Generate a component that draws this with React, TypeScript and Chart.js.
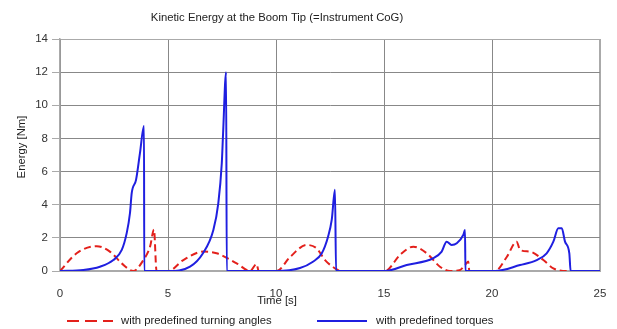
import React, { useEffect, useRef } from "react";
import { Chart, registerables } from "chart.js";

Chart.register(...registerables);

const chartTitle = "Kinetic Energy at the Boom Tip (=Instrument CoG)";
const xTitle = "Time [s]";
const yTitle = "Energy [Nm]";
const seriesNames = ["with predefined turning angles", "with predefined torques"];

const angleTime = [
  0, 0.77, 1.7, 2.31, 2.86, 3.39, 3.86, 4.17, 4.35, 4.47,
  5.02, 5.71, 6.64, 7.25, 8.18, 8.8, 9.1, 9.2,
  10.03, 10.66, 11.42, 11.88, 12.27, 12.81, 13.0,
  15.05, 15.74, 16.36, 16.98, 17.59, 18.05, 18.5, 18.75, 18.9, 18.95,
  20.14, 20.69, 21.14, 21.3, 21.76, 22.38, 22.84, 23.46, 25,
];
const angleEnergy = [
  0, 1.07, 1.5, 1.17, 0.46, 0, 0.66, 1.47, 2.5, 0,
  0, 0.66, 1.17, 1.07, 0.46, 0, 0.42, 0,
  0, 0.86, 1.57, 1.37, 0.66, 0.1, 0,
  0, 0.97, 1.47, 1.07, 0.26, 0, 0.05, 0.36, 0.58, 0,
  0, 0.86, 1.77, 1.27, 1.17, 0.66, 0.16, 0, 0,
];

const torqueTime = [
  0, 1.08, 1.85, 2.47, 2.86, 3.09, 3.24, 3.32, 3.52, 3.7, 3.89, 3.9,
  5.02, 6.02, 6.62, 7.1, 7.33, 7.49, 7.55, 7.69, 7.72,
  10.03, 11.11, 11.71, 12.12, 12.41, 12.58, 12.73, 12.78,
  15.05, 16.05, 17.28, 17.67, 17.9, 18.13, 18.37, 18.67, 18.75, 18.77,
  20.14, 21.3, 22.07, 22.53, 22.84, 23.07, 23.23, 23.38, 23.58, 23.64, 25,
];
const torqueEnergy = [
  0, 0.06, 0.26, 0.66, 1.27, 2.3, 3.5, 4.7, 5.5, 7.1, 8.75, 0,
  0, 0.26, 1.07, 2.47, 4.1, 6.5, 8.3, 12.0, 0,
  0, 0.18, 0.56, 1.07, 2.07, 3.08, 4.9, 0,
  0, 0.36, 0.77, 1.17, 1.77, 1.57, 1.67, 2.17, 2.47, 0,
  0, 0.36, 0.66, 1.07, 1.77, 2.58, 2.58, 1.77, 1.07, 0, 0,
];

const xTicksMax = 25;
const yTicksMax = 14;

const RED = "#e3201b";
const BLUE = "#1f1fe0";
const FONT = "'Liberation Sans', Arial, sans-serif";

const zip = (xs: number[], ys: number[]) => xs.map((x, i) => ({ x, y: ys[i] }));

const textPlugin = {
  id: "texts",
  afterDraw(chart: any) {
    const ctx = chart.ctx as CanvasRenderingContext2D;
    ctx.save();
    ctx.fillStyle = "#222";
    ctx.textBaseline = "middle";
    ctx.font = `11.3px ${FONT}`;
    ctx.textAlign = "center";
    ctx.fillText(chartTitle, 277, 18);
    ctx.fillText(xTitle, 277, 301);
    ctx.save();
    ctx.translate(22, 147);
    ctx.rotate(-Math.PI / 2);
    ctx.fillText(yTitle, 0, 0);
    ctx.restore();
    // legend
    ctx.textAlign = "left";
    ctx.lineWidth = 2;
    ctx.strokeStyle = RED;
    ctx.setLineDash([12, 6]);
    ctx.beginPath();
    ctx.moveTo(67, 321);
    ctx.lineTo(113, 321);
    ctx.stroke();
    ctx.setLineDash([]);
    ctx.strokeStyle = BLUE;
    ctx.beginPath();
    ctx.moveTo(317, 321);
    ctx.lineTo(367, 321);
    ctx.stroke();
    ctx.fillText(seriesNames[0], 121, 321);
    ctx.fillText(seriesNames[1], 376, 321);
    ctx.restore();
  },
};

export default function App() {
  const ref = useRef<HTMLCanvasElement | null>(null);
  useEffect(() => {
    if (!ref.current) return;
    const chart = new Chart(ref.current, {
      type: "line",
      data: {
        datasets: [
          {
            label: seriesNames[0],
            data: zip(angleTime, angleEnergy),
            borderColor: RED,
            backgroundColor: RED,
            borderWidth: 2,
            borderDash: [7, 4],
            pointRadius: 0,
            cubicInterpolationMode: "monotone",
            order: 1,
          },
          {
            label: seriesNames[1],
            data: zip(torqueTime, torqueEnergy),
            borderColor: BLUE,
            backgroundColor: BLUE,
            borderWidth: 2,
            pointRadius: 0,
            cubicInterpolationMode: "monotone",
            order: 0,
          },
        ],
      },
      options: {
        animation: false,
        responsive: true,
        maintainAspectRatio: false,
        layout: { padding: { top: 39, right: 17, left: 0, bottom: 0 } },
        plugins: {
          legend: { display: false },
          title: { display: false },
          tooltip: { enabled: false },
        },
        scales: {
          x: {
            type: "linear",
            min: 0,
            max: xTicksMax,
            afterFit: (s: any) => {
              s.height = 58;
            },
            ticks: {
              stepSize: 5,
              color: "#333",
              font: { family: FONT, size: 11.5 },
              padding: 8,
              maxRotation: 0,
            },
            grid: {
              color: (c: any) => (c.tick && c.tick.value === xTicksMax ? "#aaa" : "#888"),
              lineWidth: (c: any) => (c.tick && c.tick.value === xTicksMax ? 2 : 1),
              tickLength: 8,
              tickColor: "rgba(0,0,0,0)",
            },
            border: { color: "#aaa", width: 2 },
          },
          y: {
            min: 0,
            max: yTicksMax,
            afterFit: (s: any) => {
              s.width = 60;
            },
            ticks: {
              stepSize: 2,
              color: "#333",
              font: { family: FONT, size: 11.5 },
              padding: 4,
            },
            grid: {
              color: (c: any) => (c.tick && c.tick.value === yTicksMax ? "#aaa" : "#888"),
              lineWidth: 1,
              tickLength: 8,
              tickColor: "#aaa",
            },
            border: { color: "#aaa", width: 1.5 },
          },
        },
      },
      plugins: [textPlugin],
    });
    return () => chart.destroy();
  }, []);
  return (
    <div style={{ position: "fixed", left: 0, top: 0, width: 617, height: 329, background: "#fff" }}>
      <canvas ref={ref} />
    </div>
  );
}
